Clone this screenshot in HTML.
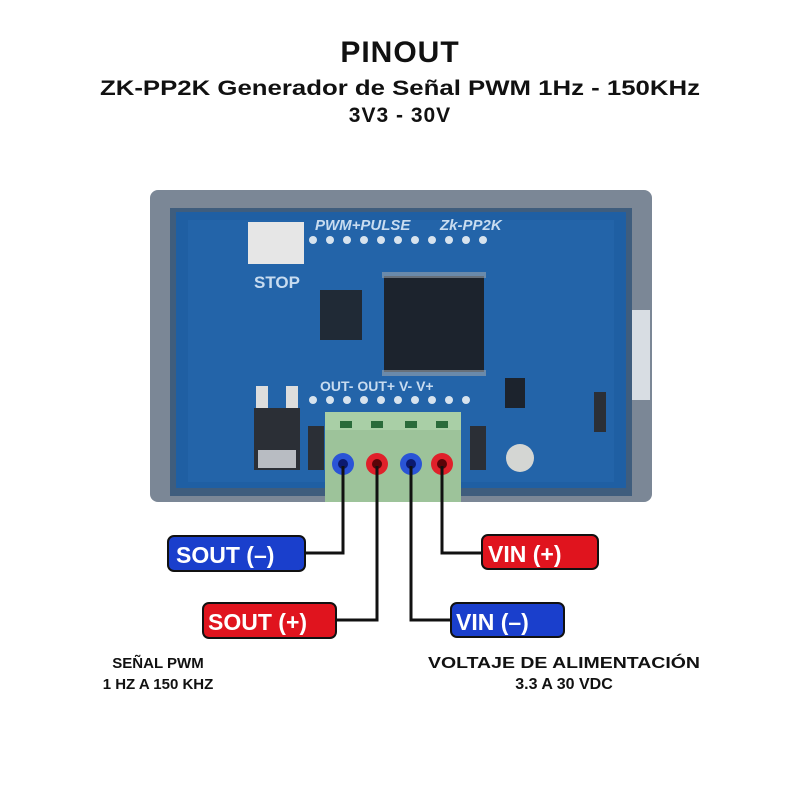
<!DOCTYPE html>
<html><head><meta charset="utf-8"><style>
html,body{margin:0;padding:0;background:#fff;width:800px;height:800px;overflow:hidden}
svg{display:block}
text{font-family:"Liberation Sans",sans-serif;font-weight:bold}
</style></head><body>
<svg width="800" height="800" viewBox="0 0 800 800">
<text x="400" y="62" text-anchor="middle" font-size="30" fill="#111" letter-spacing="1">PINOUT</text>
<text x="400" y="95" text-anchor="middle" font-size="21" fill="#111" textLength="600" lengthAdjust="spacingAndGlyphs">ZK-PP2K Generador de Señal PWM 1Hz - 150KHz</text>
<text x="400" y="122" text-anchor="middle" font-size="21" fill="#111" letter-spacing="1">3V3 - 30V</text>

<rect x="150" y="190" width="502" height="312" rx="8" fill="#7b8796"/>
<rect x="170" y="208" width="462" height="288" fill="#3f5d7d"/>
<rect x="176" y="212" width="450" height="276" fill="#1f5fa3"/>
<rect x="188" y="220" width="426" height="262" fill="#2566ab" opacity="0.7"/>
<rect x="632" y="310" width="18" height="90" fill="#d8dde3"/>
<text x="315" y="230" font-size="15" fill="#c8dcf0" font-style="italic" font-weight="normal">PWM+PULSE</text>
<text x="440" y="230" font-size="15" fill="#c8dcf0" font-style="italic" font-weight="normal">Zk-PP2K</text>
<text x="254" y="288" font-size="17" fill="#c8dcf0" font-weight="normal">STOP</text>
<text x="320" y="391" font-size="14" fill="#c8dcf0" font-weight="normal">OUT- OUT+ V-  V+</text>
<rect x="248" y="222" width="56" height="42" fill="#e6e6e6"/>
<g fill="#d7e3ee">
<circle cx="313" cy="240" r="4"/><circle cx="330" cy="240" r="4"/><circle cx="347" cy="240" r="4"/><circle cx="364" cy="240" r="4"/><circle cx="381" cy="240" r="4"/><circle cx="398" cy="240" r="4"/><circle cx="415" cy="240" r="4"/><circle cx="432" cy="240" r="4"/><circle cx="449" cy="240" r="4"/><circle cx="466" cy="240" r="4"/><circle cx="483" cy="240" r="4"/>
<circle cx="313" cy="400" r="4"/><circle cx="330" cy="400" r="4"/><circle cx="347" cy="400" r="4"/><circle cx="364" cy="400" r="4"/><circle cx="381" cy="400" r="4"/><circle cx="398" cy="400" r="4"/><circle cx="415" cy="400" r="4"/><circle cx="432" cy="400" r="4"/><circle cx="449" cy="400" r="4"/><circle cx="466" cy="400" r="4"/>
</g>
<rect x="320" y="290" width="42" height="50" fill="#202a36"/>
<rect x="384" y="276" width="100" height="96" fill="#1c232d"/>
<rect x="382" y="272" width="104" height="6" fill="#9aa3ad" opacity="0.6"/>
<rect x="382" y="370" width="104" height="6" fill="#9aa3ad" opacity="0.6"/>
<rect x="505" y="378" width="20" height="30" fill="#1c232d"/>
<rect x="254" y="408" width="46" height="62" fill="#2b2f36"/>
<rect x="258" y="450" width="38" height="18" fill="#b8bcc2"/>
<rect x="256" y="386" width="12" height="22" fill="#ddd"/>
<rect x="286" y="386" width="12" height="22" fill="#ddd"/>
<rect x="308" y="426" width="16" height="44" fill="#2b2f36"/>
<rect x="470" y="426" width="16" height="44" fill="#2b2f36"/>
<circle cx="520" cy="458" r="14" fill="#d4d6d3"/>
<rect x="594" y="392" width="12" height="40" fill="#2b2f36"/>
<rect x="325" y="412" width="136" height="90" fill="#9dc39a"/>
<rect x="325" y="412" width="136" height="18" fill="#a9cfa6"/>
<g fill="#2a6b3a"><rect x="340" y="421" width="12" height="7"/><rect x="371" y="421" width="12" height="7"/><rect x="405" y="421" width="12" height="7"/><rect x="436" y="421" width="12" height="7"/></g>
<circle cx="343" cy="464" r="11" fill="#2a54d6"/><circle cx="343" cy="464" r="5" fill="#0b1a70"/>
<circle cx="377" cy="464" r="11" fill="#e0202a"/><circle cx="377" cy="464" r="5" fill="#5a0408"/>
<circle cx="411" cy="464" r="11" fill="#2a54d6"/><circle cx="411" cy="464" r="5" fill="#0b1a70"/>
<circle cx="442" cy="464" r="11" fill="#e0202a"/><circle cx="442" cy="464" r="5" fill="#5a0408"/>

<g stroke="#111" stroke-width="3" fill="none">
<polyline points="343,466 343,553 304,553"/>
<polyline points="377,466 377,620 336,620"/>
<polyline points="411,466 411,620 451,620"/>
<polyline points="442,466 442,553 482,553"/>
</g>

<rect x="168" y="536" width="137" height="35" rx="6" fill="#1a3fcc" stroke="#111" stroke-width="2"/>
<text x="176" y="563" font-size="23" fill="#fff">SOUT (–)</text>
<rect x="203" y="603" width="133" height="35" rx="6" fill="#e0141e" stroke="#111" stroke-width="2"/>
<text x="208" y="630" font-size="23" fill="#fff">SOUT (+)</text>
<rect x="482" y="535" width="116" height="34" rx="6" fill="#e0141e" stroke="#111" stroke-width="2"/>
<text x="488" y="562" font-size="23" fill="#fff">VIN (+)</text>
<rect x="451" y="603" width="113" height="34" rx="6" fill="#1a3fcc" stroke="#111" stroke-width="2"/>
<text x="456" y="630" font-size="23" fill="#fff">VIN (–)</text>

<text x="158" y="668" text-anchor="middle" font-size="15" fill="#111">SEÑAL PWM</text>
<text x="158" y="689" text-anchor="middle" font-size="15" fill="#111">1 HZ A 150 KHZ</text>
<text x="564" y="668" text-anchor="middle" font-size="16" fill="#111" textLength="272" lengthAdjust="spacingAndGlyphs">VOLTAJE DE ALIMENTACIÓN</text>
<text x="564" y="689" text-anchor="middle" font-size="16" fill="#111">3.3 A 30 VDC</text>
</svg>
</body></html>
